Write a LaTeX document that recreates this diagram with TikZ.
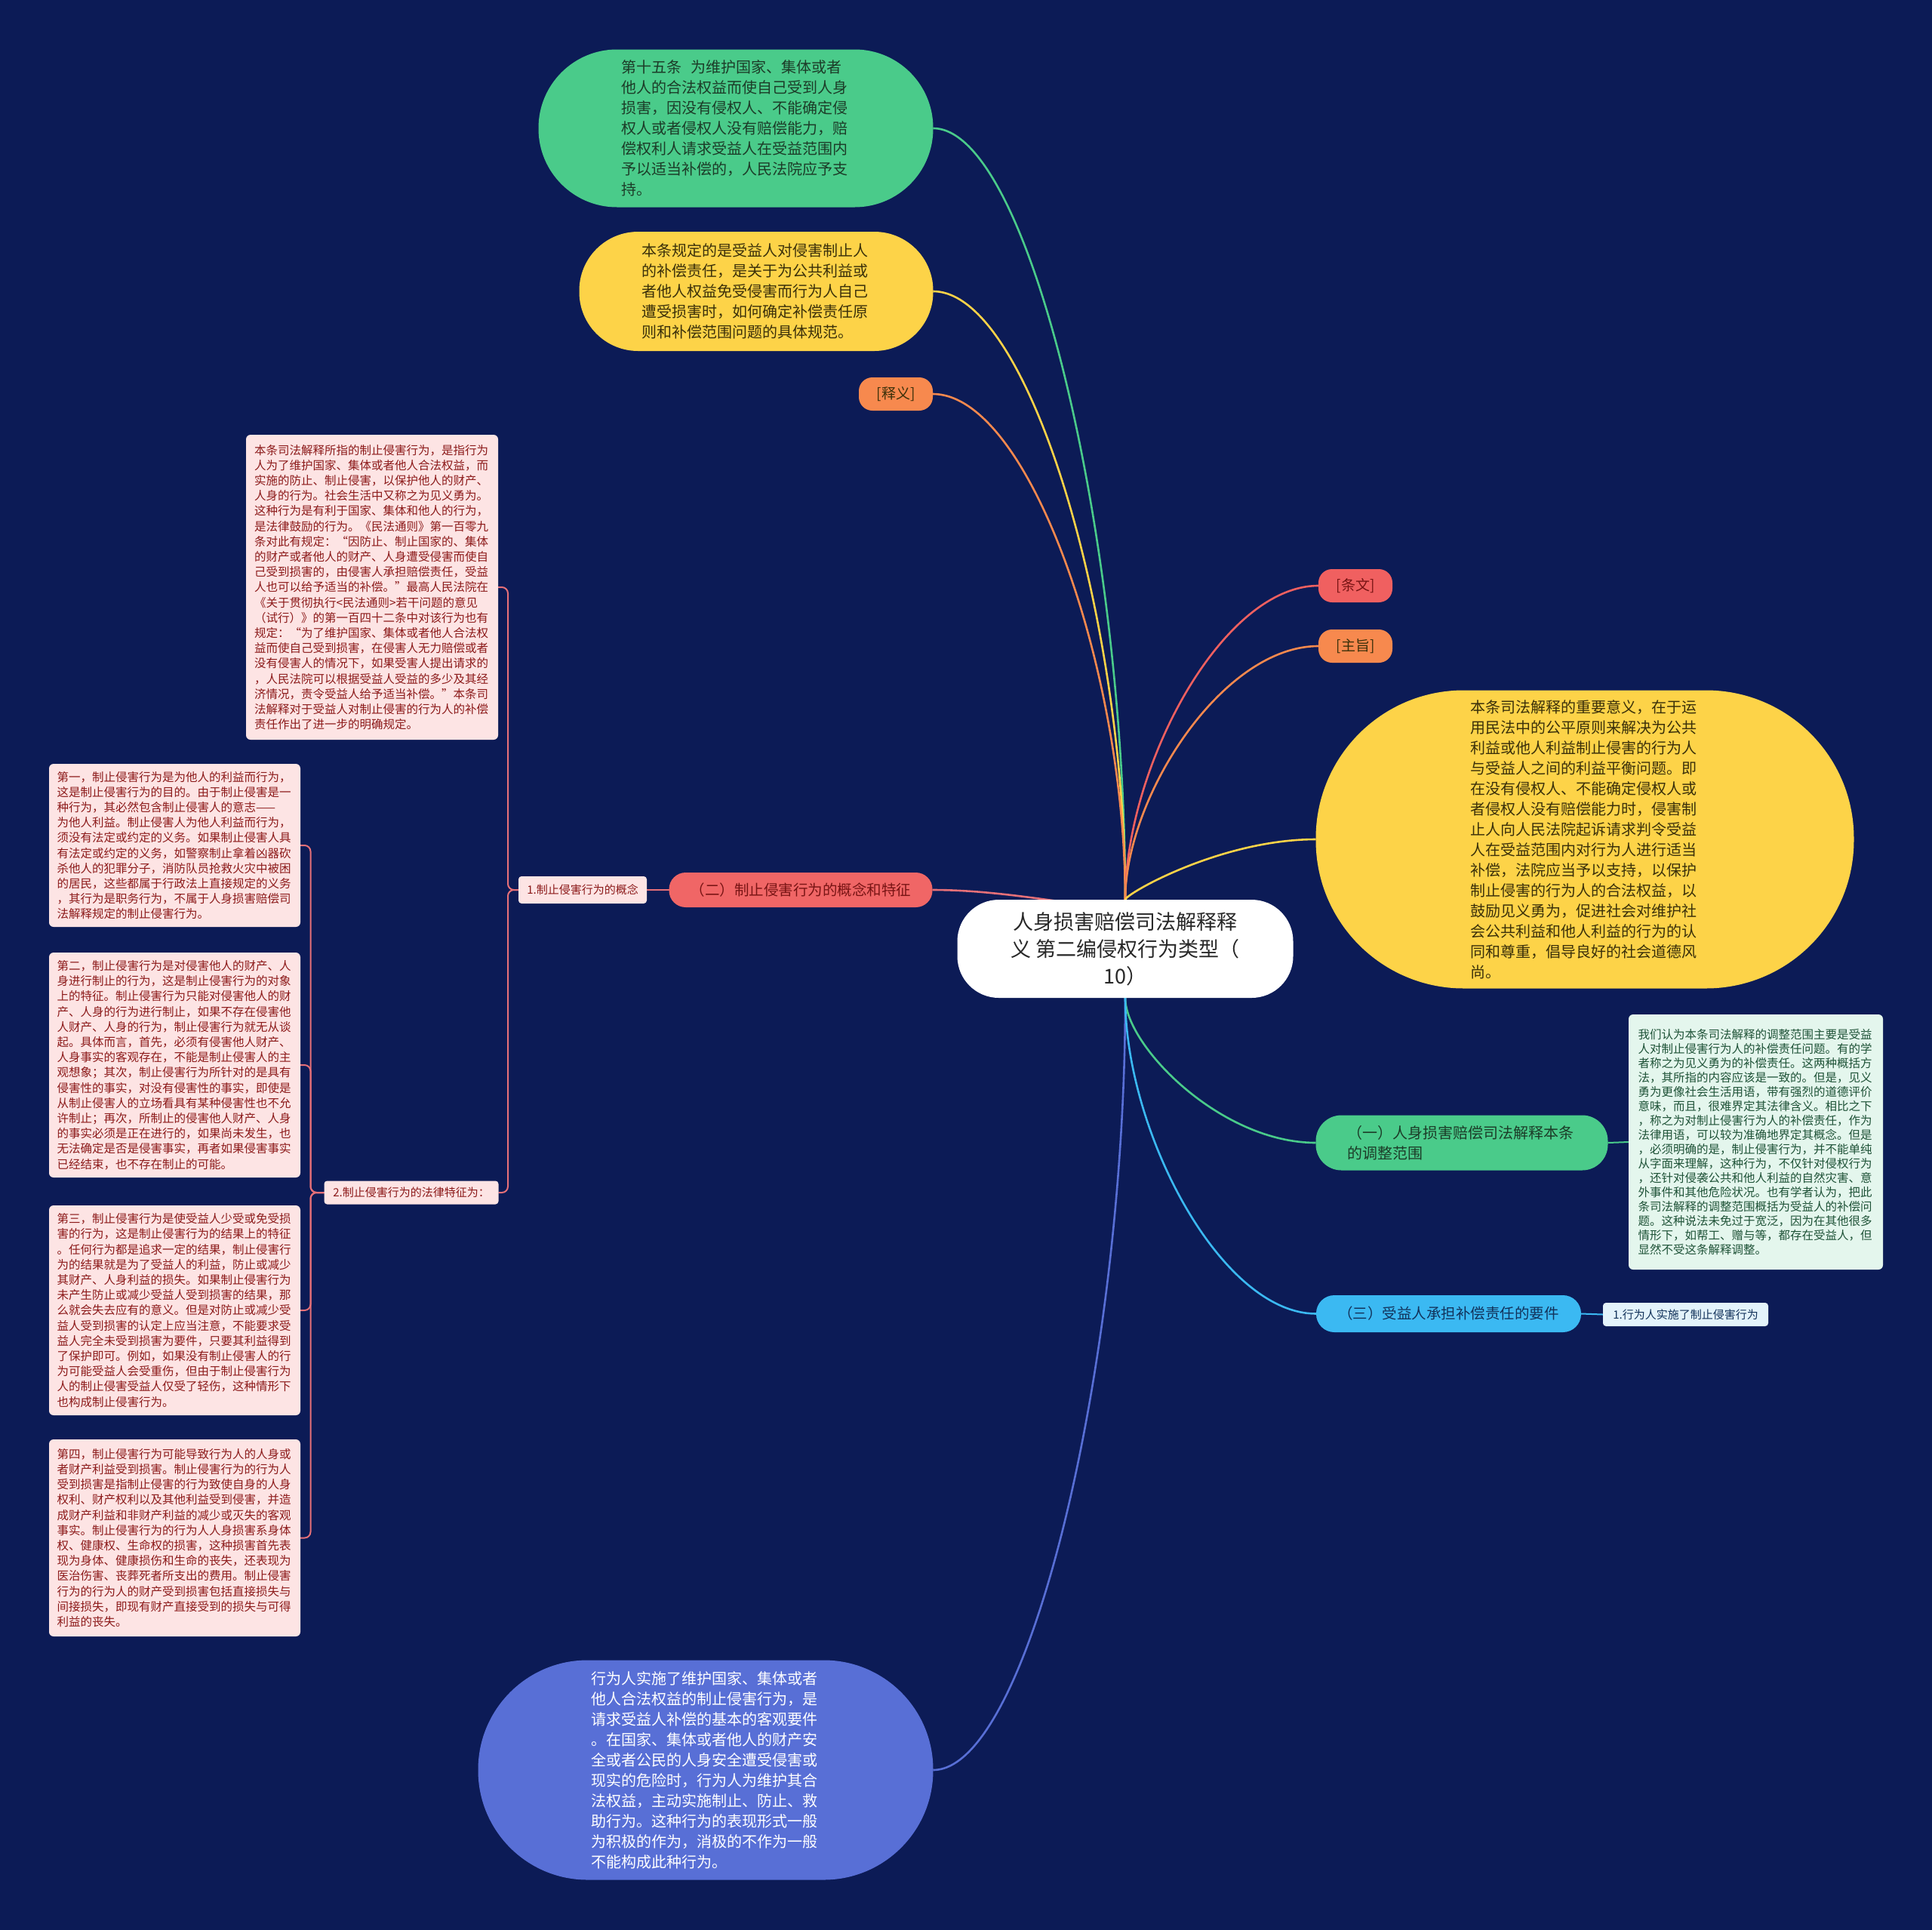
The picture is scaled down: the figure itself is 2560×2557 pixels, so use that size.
\documentclass[tikz,border=0pt]{standalone}
\usepackage{fontspec}
\setmainfont{Noto Sans CJK SC}
\usepackage{tikz}
\usepackage{xcolor}
\usetikzlibrary{calc}
\definecolor{bgnavy}{RGB}{12,27,86}
\definecolor{cgreen}{RGB}{74,203,138}
\definecolor{cyellow}{RGB}{253,211,72}
\definecolor{corange}{RGB}{247,137,78}
\definecolor{cred}{RGB}{240,96,96}
\definecolor{ccoral}{RGB}{240,102,102}
\definecolor{cblue}{RGB}{59,185,242}
\definecolor{cperi}{RGB}{88,111,214}
\definecolor{cpink}{RGB}{253,228,228}
\definecolor{cpaleg}{RGB}{228,246,237}
\definecolor{cpaleb}{RGB}{227,243,251}
\definecolor{clink}{RGB}{230,112,120}
\definecolor{tgreen}{RGB}{28,60,40}
\definecolor{tyellow}{RGB}{58,48,10}
\definecolor{tred}{RGB}{120,20,20}
\definecolor{tpink}{RGB}{140,26,26}
\definecolor{tpaleg}{RGB}{30,82,55}
\definecolor{tblue}{RGB}{18,50,90}
\definecolor{troot}{RGB}{40,40,40}

\pgfdeclarelayer{bg}
\pgfdeclarelayer{edges}
\pgfsetlayers{bg,edges,main}

\begin{document}
\begin{tikzpicture}[x=1pt, y=-1pt,
  every node/.style={inner sep=0pt, outer sep=0pt},
  big/.style={font=\fontsize{20}{27}\selectfont, align=left, text width=304},
  note/.style={font=\fontsize{15.5}{20.2}\selectfont, align=left, text width=312, rounded corners=6},
  tag/.style={font=\fontsize{19}{24}\selectfont, minimum width=98, minimum height=44, rounded corners=18},
  lbl/.style={font=\fontsize{15}{18}\selectfont, rounded corners=4},
  edge/.style={line width=2.6pt},
  link/.style={line width=2pt, clink, rounded corners=8},
  branch/.style={to path={let \p1=(\tikztostart), \p2=(\tikztotarget) in
    .. controls (\x1,{0.5*(\y1+\y2)}) and ({0.5*(\x1+\x2)},\y2) .. (\tikztotarget)}},
  elbow/.style={to path={-- ++(#1,0) |- (\tikztotarget)}},
]
\useasboundingbox (0,0) rectangle (2560,2557);
\begin{pgfonlayer}{bg}
\fill[bgnavy] (0,0) rectangle (2560,2557);
\end{pgfonlayer}

% root
\node[fill=white, text=troot, minimum width=445, minimum height=130, rounded corners=55,
  align=center, font=\fontsize{27}{36}\selectfont] (root) at (1491,1257)
  {人身损害赔偿司法解释释\\义 第二编侵权行为类型（\\10）};

% upper left branches
\node[big, fill=cgreen, text=tgreen, minimum width=523, minimum height=209, rounded corners=104] (article) at (975,170)
  {第十五条\hspace{0.6em}为维护国家、集体或者\\他人的合法权益而使自己受到人身\\损害，因没有侵权人、不能确定侵\\权人或者侵权人没有赔偿能力，赔\\偿权利人请求受益人在受益范围内\\予以适当补偿的，人民法院应予支\\持。};
\node[big, fill=cyellow, text=tyellow, minimum width=469, minimum height=158, rounded corners=78] (summary) at (1002,386)
  {本条规定的是受益人对侵害制止人\\的补偿责任，是关于为公共利益或\\者他人权益免受侵害而行为人自己\\遭受损害时，如何确定补偿责任原\\则和补偿范围问题的具体规范。};
\node[tag, fill=corange, text=tyellow] (shiyi) at (1187,522) {[释义]};

% concept and features
\node[fill=ccoral, text=tred, minimum width=349, minimum height=46, rounded corners=22,
  font=\fontsize{19.5}{24}\selectfont] (concept) at (1061,1179) {（二）制止侵害行为的概念和特征};
\node[lbl, fill=cpink, text=tpink, minimum width=170, minimum height=36] (conceptlbl) at (772,1179) {1.制止侵害行为的概念};
\node[note, fill=cpink, text=tpink, minimum width=334, minimum height=404] (detail) at (493,778)
  {本条司法解释所指的制止侵害行为，是指行为\\人为了维护国家、集体或者他人合法权益，而\\实施的防止、制止侵害，以保护他人的财产、\\人身的行为。社会生活中又称之为见义勇为。\\这种行为是有利于国家、集体和他人的行为，\\是法律鼓励的行为。《民法通则》第一百零九\\条对此有规定：“因防止、制止国家的、集体\\的财产或者他人的财产、人身遭受侵害而使自\\己受到损害的，由侵害人承担赔偿责任，受益\\人也可以给予适当的补偿。”最高人民法院在\\《关于贯彻执行<民法通则>若干问题的意见\\（试行）》的第一百四十二条中对该行为也有\\规定：“为了维护国家、集体或者他人合法权\\益而使自己受到损害，在侵害人无力赔偿或者\\没有侵害人的情况下，如果受害人提出请求的\\，人民法院可以根据受益人受益的多少及其经\\济情况，责令受益人给予适当补偿。”本条司\\法解释对于受益人对制止侵害的行为人的补偿\\责任作出了进一步的明确规定。};
\node[lbl, fill=cpink, text=tpink, minimum width=231, minimum height=31] (featurelbl) at (545,1580) {2.制止侵害行为的法律特征为：};
\node[note, fill=cpink, text=tpink, minimum width=333, minimum height=216] (feat1) at (231.5,1120)
  {第一，制止侵害行为是为他人的利益而行为，\\这是制止侵害行为的目的。由于制止侵害是一\\种行为，其必然包含制止侵害人的意志——\\为他人利益。制止侵害人为他人利益而行为，\\须没有法定或约定的义务。如果制止侵害人具\\有法定或约定的义务，如警察制止拿着凶器砍\\杀他人的犯罪分子，消防队员抢救火灾中被困\\的居民，这些都属于行政法上直接规定的义务\\，其行为是职务行为，不属于人身损害赔偿司\\法解释规定的制止侵害行为。};
\node[note, fill=cpink, text=tpink, minimum width=333, minimum height=298] (feat2) at (231.5,1411)
  {第二，制止侵害行为是对侵害他人的财产、人\\身进行制止的行为，这是制止侵害行为的对象\\上的特征。制止侵害行为只能对侵害他人的财\\产、人身的行为进行制止，如果不存在侵害他\\人财产、人身的行为，制止侵害行为就无从谈\\起。具体而言，首先，必须有侵害他人财产、\\人身事实的客观存在，不能是制止侵害人的主\\观想象；其次，制止侵害行为所针对的是具有\\侵害性的事实，对没有侵害性的事实，即使是\\从制止侵害人的立场看具有某种侵害性也不允\\许制止；再次，所制止的侵害他人财产、人身\\的事实必须是正在进行的，如果尚未发生，也\\无法确定是否是侵害事实，再者如果侵害事实\\已经结束，也不存在制止的可能。};
\node[note, fill=cpink, text=tpink, minimum width=333, minimum height=278] (feat3) at (231.5,1736)
  {第三，制止侵害行为是使受益人少受或免受损\\害的行为，这是制止侵害行为的结果上的特征\\。任何行为都是追求一定的结果，制止侵害行\\为的结果就是为了受益人的利益，防止或减少\\其财产、人身利益的损失。如果制止侵害行为\\未产生防止或减少受益人受到损害的结果，那\\么就会失去应有的意义。但是对防止或减少受\\益人受到损害的认定上应当注意，不能要求受\\益人完全未受到损害为要件，只要其利益得到\\了保护即可。例如，如果没有制止侵害人的行\\为可能受益人会受重伤，但由于制止侵害行为\\人的制止侵害受益人仅受了轻伤，这种情形下\\也构成制止侵害行为。};
\node[note, fill=cpink, text=tpink, minimum width=333, minimum height=261] (feat4) at (231.5,2037.5)
  {第四，制止侵害行为可能导致行为人的人身或\\者财产利益受到损害。制止侵害行为的行为人\\受到损害是指制止侵害的行为致使自身的人身\\权利、财产权利以及其他利益受到侵害，并造\\成财产利益和非财产利益的减少或灭失的客观\\事实。制止侵害行为的行为人人身损害系身体\\权、健康权、生命权的损害，这种损害首先表\\现为身体、健康损伤和生命的丧失，还表现为\\医治伤害、丧葬死者所支出的费用。制止侵害\\行为的行为人的财产受到损害包括直接损失与\\间接损失，即现有财产直接受到的损失与可得\\利益的丧失。};

% lower left branch
\node[big, fill=cperi, text=white, minimum width=603, minimum height=291, rounded corners=145] (act) at (935,2345)
  {行为人实施了维护国家、集体或者\\他人合法权益的制止侵害行为，是\\请求受益人补偿的基本的客观要件\\。在国家、集体或者他人的财产安\\全或者公民的人身安全遭受侵害或\\现实的危险时，行为人为维护其合\\法权益，主动实施制止、防止、救\\助行为。这种行为的表现形式一般\\为积极的作为，消极的不作为一般\\不能构成此种行为。};

% right branches
\node[tag, fill=cred, text=tred] (tiaowen) at (1796,776) {[条文]};
\node[tag, fill=corange, text=tyellow] (zhuzhi) at (1796,856) {[主旨]};
\node[big, fill=cyellow, text=tyellow, minimum width=713, minimum height=395, rounded corners=196] (meaning) at (2100,1112)
  {本条司法解释的重要意义，在于运\\用民法中的公平原则来解决为公共\\利益或他人利益制止侵害的行为人\\与受益人之间的利益平衡问题。即\\在没有侵权人、不能确定侵权人或\\者侵权人没有赔偿能力时，侵害制\\止人向人民法院起诉请求判令受益\\人在受益范围内对行为人进行适当\\补偿，法院应当予以支持，以保护\\制止侵害的行为人的合法权益，以\\鼓励见义勇为，促进社会对维护社\\会公共利益和他人利益的行为的认\\同和尊重，倡导良好的社会道德风\\尚。};
\node[big, fill=cgreen, text=tgreen, minimum width=387, minimum height=73, rounded corners=34] (scope) at (1937,1514)
  {（一）人身损害赔偿司法解释本条\\的调整范围};
\node[note, font=\fontsize{15.5}{19}\selectfont, fill=cpaleg, text=tpaleg, minimum width=337, minimum height=338] (scopetext) at (2326.5,1513)
  {我们认为本条司法解释的调整范围主要是受益\\人对制止侵害行为人的补偿责任问题。有的学\\者称之为见义勇为的补偿责任。这两种概括方\\法，其所指的内容应该是一致的。但是，见义\\勇为更像社会生活用语，带有强烈的道德评价\\意味，而且，很难界定其法律含义。相比之下\\，称之为对制止侵害行为人的补偿责任，作为\\法律用语，可以较为准确地界定其概念。但是\\，必须明确的是，制止侵害行为，并不能单纯\\从字面来理解，这种行为，不仅针对侵权行为\\，还针对侵袭公共和他人利益的自然灾害、意\\外事件和其他危险状况。也有学者认为，把此\\条司法解释的调整范围概括为受益人的补偿问\\题。这种说法未免过于宽泛，因为在其他很多\\情形下，如帮工、赠与等，都存在受益人，但\\显然不受这条解释调整。};
\node[fill=cblue, text=tblue, minimum width=351, minimum height=49, rounded corners=24,
  font=\fontsize{19.5}{24}\selectfont] (cond) at (1919.5,1740.5) {（三）受益人承担补偿责任的要件};
\node[lbl, fill=cpaleb, text=tblue, minimum width=219, minimum height=31] (condlbl) at (2233.5,1741.5) {1.行为人实施了制止侵害行为};

\begin{pgfonlayer}{edges}
% curves from the root
\draw[edge, cgreen] (root) to[branch] (article.east);
\draw[edge, cyellow] (root) to[branch] (summary.east);
\draw[edge, corange] (root) to[branch] (shiyi.east);
\draw[edge, clink] (root) to[branch] (concept.east);
\draw[edge, cperi] (root) to[branch] (act.east);
\draw[edge, cred] (root) to[branch] (tiaowen.west);
\draw[edge, corange] (root) to[branch] (zhuzhi.west);
\draw[edge, cyellow] (root) to[branch] (meaning.west);
\draw[edge, cgreen] (root) to[branch] (scope.west);
\draw[edge, cblue] (root) to[branch] (cond.west);
% sub links
\draw[link] (concept.west) -- (conceptlbl.east);
\draw[link] (conceptlbl.west) to[elbow=-14] (detail.east);
\draw[link] (conceptlbl.west) to[elbow=-14] (featurelbl.east);
\foreach \f in {feat1,feat2,feat3,feat4}
  \draw[link] (featurelbl.west) to[elbow=-18] (\f.east);
\draw[line width=2pt, cgreen] (scope.east) -- (scopetext.west);
\draw[line width=2pt, cblue] (cond.east) -- (condlbl.west);
\end{pgfonlayer}
\end{tikzpicture}
\end{document}
